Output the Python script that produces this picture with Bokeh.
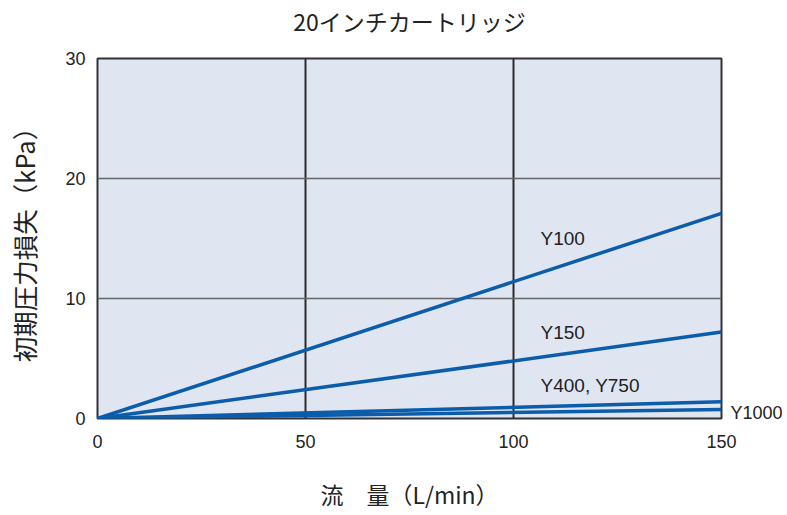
from bokeh.plotting import figure
from bokeh.models import Label, Range1d, FixedTicker, LinearAxis
from bokeh.embed import file_html
from bokeh.resources import INLINE

title_text = "20インチカートリッジ"
flow = [0, 150]
y100 = [0, 17.1]
y150 = [0, 7.2]
y400_750 = [0, 1.4]
y1000 = [0, 0.75]
series_labels = ["Y100", "Y150", "Y400, Y750"]
label_pos = [(106.5, 15.0), (106.5, 7.17), (106.5, 2.75)]
end_label = "Y1000"
end_label_y = 0.5
x_ticks = [0, 50, 100, 150]
y_ticks = [0, 10, 20, 30]

LINE = "#0b5cab"
TXT = "#222222"
LAT = "Liberation Sans"
CJK = "Noto Sans CJK JP"

p = figure(frame_width=624, frame_height=360,
           output_backend="svg", toolbar_location=None,
           x_range=Range1d(0, 150), y_range=Range1d(0, 30),
           min_border_left=97, min_border_right=50, min_border_top=58, min_border_bottom=90)

p.background_fill_color = "#dfe5f1"
p.border_fill_color = "white"
p.outline_line_color = "#333333"
p.outline_line_width = 2

xa = p.below[0]
ya = p.left[0]
xa.ticker = FixedTicker(ticks=x_ticks)
ya.ticker = FixedTicker(ticks=y_ticks)

right = LinearAxis(ticker=FixedTicker(ticks=[end_label_y]),
                   major_label_overrides={end_label_y: end_label})
p.add_layout(right, "right")

top = LinearAxis(ticker=FixedTicker(ticks=[75]),
                 major_label_overrides={75: title_text})
p.add_layout(top, "above")

for ax in (xa, ya, right, top):
    ax.axis_line_color = None
    ax.major_tick_line_color = None
    ax.minor_tick_line_color = None
    ax.major_tick_out = 0
    ax.major_tick_in = 0
    ax.minor_tick_out = 0
    ax.major_label_text_font = LAT
    ax.major_label_text_font_size = "18px"
    ax.major_label_text_color = TXT
    ax.axis_label_text_font = CJK
    ax.axis_label_text_font_style = "normal"
    ax.axis_label_text_color = TXT

right.major_label_text_font_size = "18px"
right.major_label_standoff = 9
right.axis_label_standoff = 0

top.major_label_text_font = CJK
top.major_label_text_font_size = "23px"
top.major_label_standoff = 21
top.axis_label_standoff = 0

xa.major_label_standoff = 16
ya.major_label_standoff = 12
xa.axis_label = "流　量（L/min）"
ya.axis_label = "初期圧力損失（kPa）"
xa.axis_label_text_font_size = "23px"
ya.axis_label_text_font_size = "25.5px"
xa.axis_label_standoff = 26
ya.axis_label_standoff = 20

p.xgrid.ticker = FixedTicker(ticks=[50, 100])
p.xgrid.grid_line_color = "#2a2a2a"
p.xgrid.grid_line_width = 2
p.ygrid.ticker = FixedTicker(ticks=[10, 20])
p.ygrid.grid_line_color = "#666666"
p.ygrid.grid_line_width = 1.5

for ys in (y100, y150, y400_750, y1000):
    p.line(flow, ys, line_color=LINE, line_width=3.5)

for txt, (lx, ly) in zip(series_labels, label_pos):
    p.add_layout(Label(x=lx, y=ly, text=txt, text_font=LAT, text_font_size="19px",
                       text_color=TXT, text_baseline="middle", text_align="left"))

open("out.html", "w").write(file_html(p, INLINE))
